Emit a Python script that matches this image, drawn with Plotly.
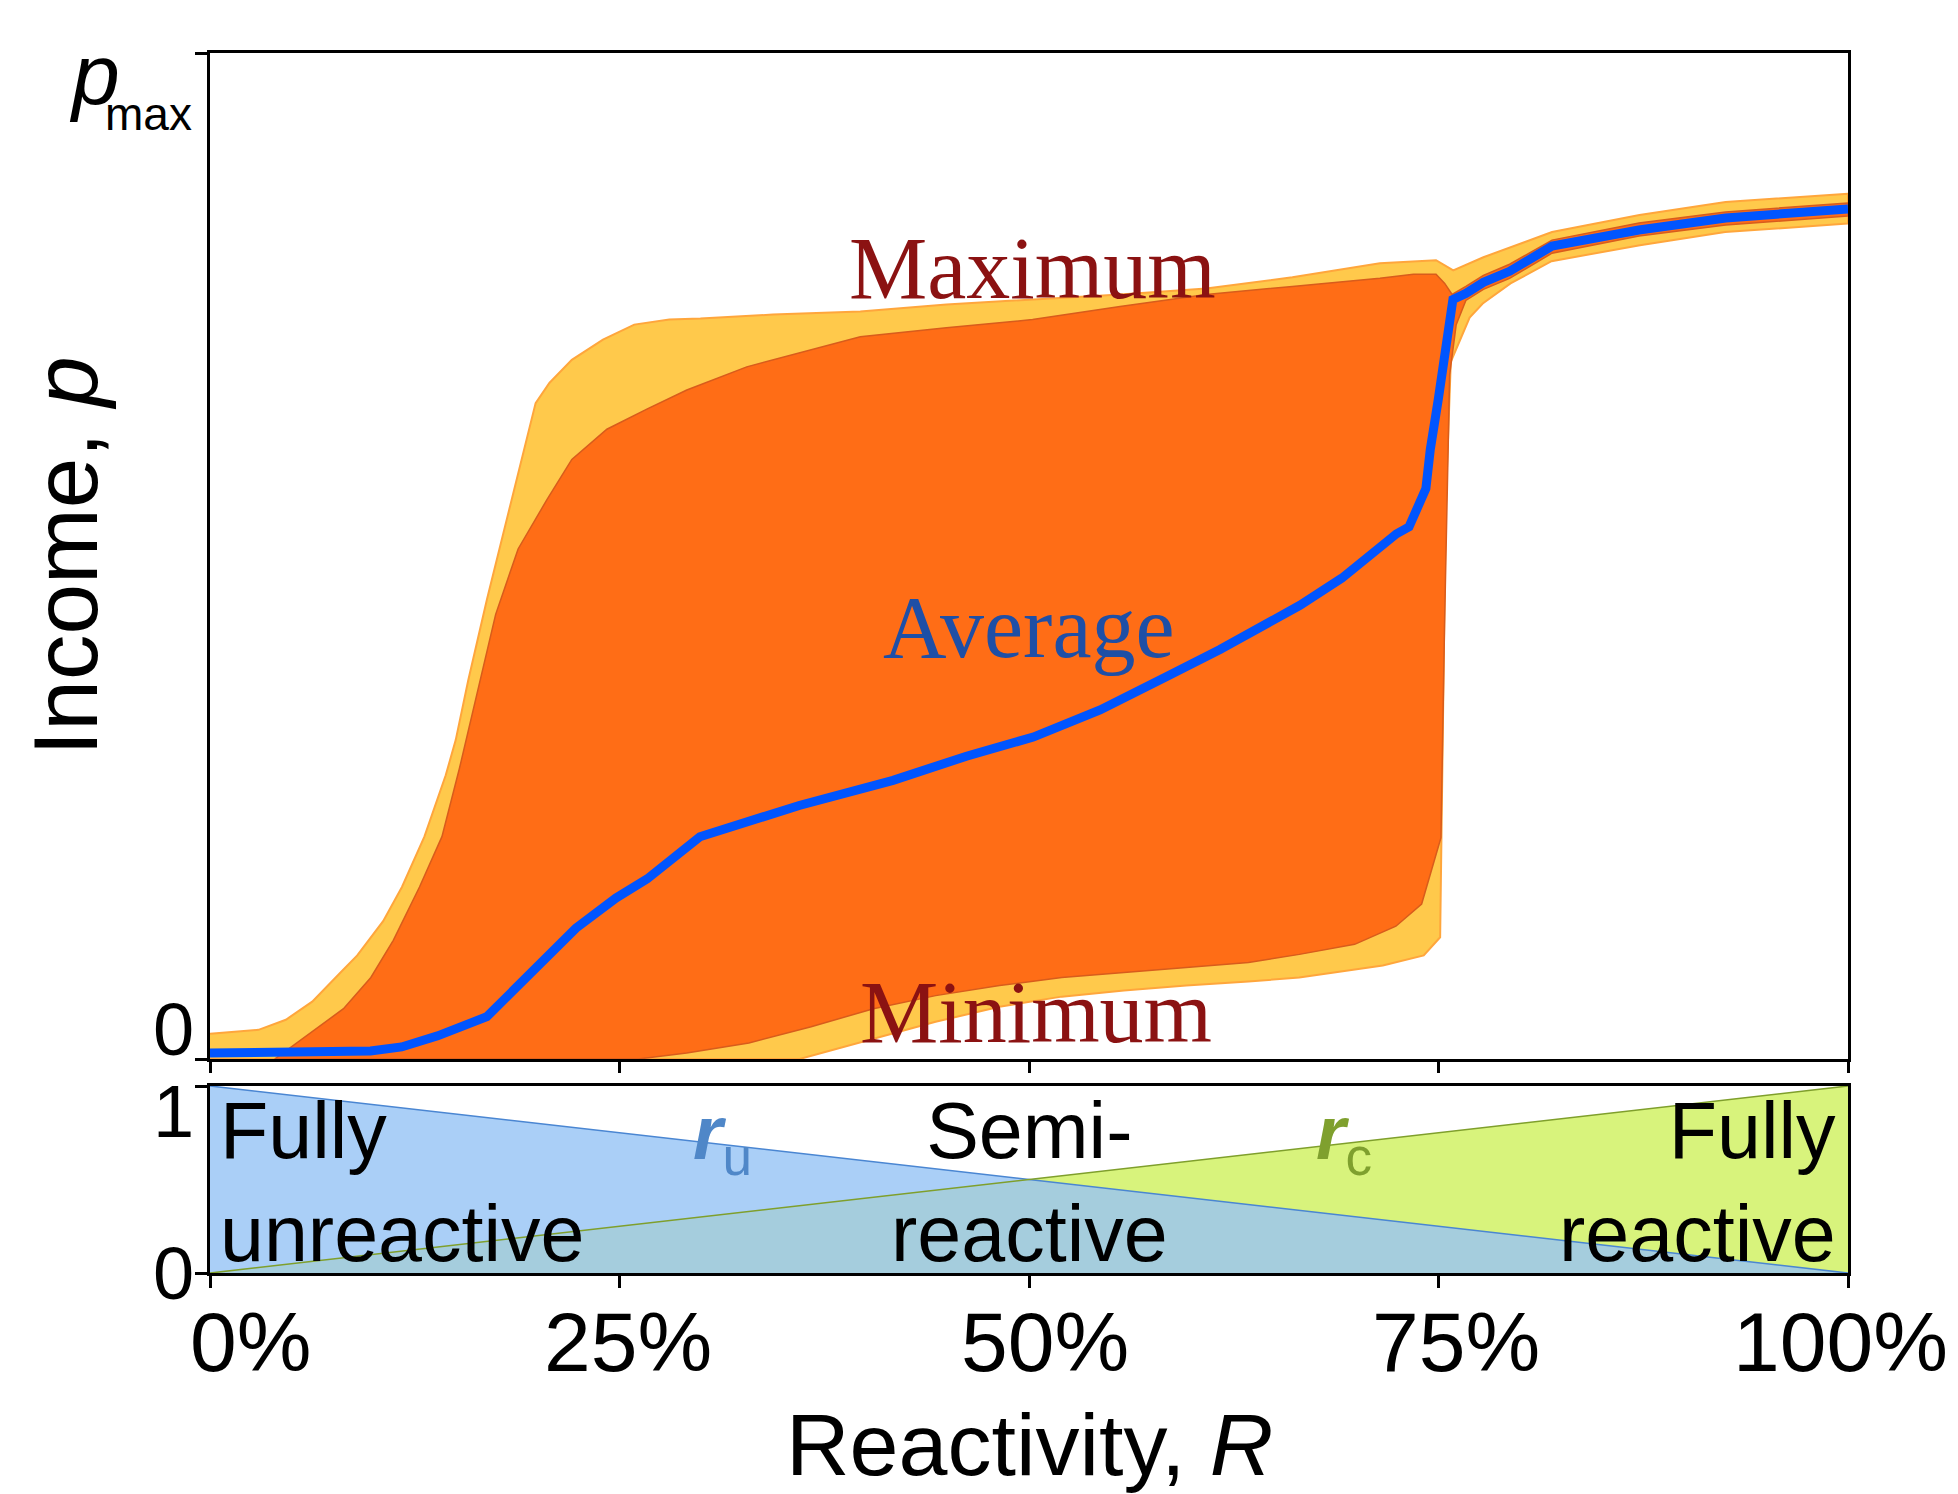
import plotly.graph_objects as go

# ---- Income envelopes versus reactivity R (%); income p scaled so the top frame is 1 ----
max_outer_x = [0, 2.96, 4.63, 6.24, 7.91, 8.99, 10.57, 11.72, 13.09, 14.39, 15.0, 15.76, 16.91, 17.44,
               18.43, 19.88, 20.72, 22.09, 23.99, 25.9, 28.04, 29.94, 34.36, 39.7, 44.96, 50.22, 55.56,
               60.82, 66.08, 71.42, 74.85, 75.9, 77.74, 81.93, 87.27, 92.53, 100]
max_outer_y = [0.025, 0.029, 0.039, 0.057, 0.085, 0.103, 0.137, 0.171, 0.221, 0.282, 0.317, 0.376, 0.457,
               0.492, 0.556, 0.652, 0.672, 0.695, 0.715, 0.730, 0.735, 0.736, 0.740, 0.743, 0.750, 0.755,
               0.760, 0.766, 0.777, 0.791, 0.794, 0.784, 0.797, 0.822, 0.839, 0.852, 0.860]

min_outer_x = [0, 36.0, 40.5, 44.3, 48.2, 52.0, 55.8, 59.6, 63.4, 66.5, 71.6, 74.1, 75.1, 75.2, 75.45,
               75.75, 76.3, 76.9, 77.7, 79.4, 81.9, 87.3, 92.5, 100]
min_outer_y = [0, 0, 0.020, 0.037, 0.052, 0.062, 0.068, 0.073, 0.077, 0.081, 0.093, 0.103, 0.121, 0.212,
               0.556, 0.693, 0.715, 0.737, 0.751, 0.771, 0.793, 0.809, 0.822, 0.8305]

max_inner_x = [3.95, 6.24, 8.15, 9.82, 11.19, 12.79, 14.16, 15.23, 16.33, 17.44, 18.81, 20.57, 22.09, 24.23,
               26.67, 29.11, 32.77, 39.7, 44.96, 50.22, 55.56, 60.82, 66.08, 71.42, 73.47, 74.85, 75.38,
               75.83, 76.67, 77.74, 79.34, 81.93, 87.24, 92.53, 100]
max_inner_y = [0, 0.027, 0.050, 0.081, 0.118, 0.171, 0.221, 0.289, 0.366, 0.442, 0.507, 0.556, 0.596, 0.626,
               0.646, 0.665, 0.688, 0.718, 0.727, 0.735, 0.748, 0.760, 0.768, 0.776, 0.780, 0.780, 0.771,
               0.760, 0.768, 0.779, 0.790, 0.814, 0.831, 0.842, 0.851]

min_inner_x = [3.95, 26.15, 29.1, 32.9, 36.7, 40.5, 44.3, 48.2, 52.0, 55.8, 59.6, 63.4, 66.5, 69.88, 72.4,
               73.97, 75.15, 75.37, 75.68, 76.08, 76.67, 77.74, 79.34, 81.93, 87.24, 92.53, 100]
min_inner_y = [0, 0, 0.006, 0.016, 0.032, 0.050, 0.063, 0.073, 0.081, 0.086, 0.091, 0.096, 0.104, 0.114,
               0.132, 0.154, 0.220, 0.432, 0.680, 0.730, 0.754, 0.765, 0.776, 0.801, 0.818, 0.829, 0.838]

avg_x = [0, 9.8, 11.7, 13.9, 16.9, 19.9, 22.34, 24.78, 26.69, 29.91, 32.92, 35.97, 41.7, 46.18, 50.26,
         54.34, 58.38, 61.66, 66.54, 69.1, 72.43, 73.2, 74.23, 74.5, 74.99, 75.37, 75.88, 76.67, 77.74,
         79.34, 81.93, 87.24, 92.53, 100]
avg_y = [0.006, 0.008, 0.012, 0.023, 0.042, 0.092, 0.130, 0.160, 0.179, 0.221, 0.237, 0.252, 0.277, 0.301,
         0.320, 0.347, 0.380, 0.407, 0.451, 0.478, 0.522, 0.529, 0.567, 0.606, 0.656, 0.705, 0.755, 0.761,
         0.772, 0.783, 0.808, 0.824, 0.836, 0.845]

# ---- Strategy shares: unreactive r_u and reactive r_c ----
share_x = [0, 100]
r_u = [1, 0]
r_c = [0, 1]

x_ticks = [0, 25, 50, 75, 100]
x_tick_text = ["0%", "25%", "50%", "75%", "100%"]
x_tick_nudge = [40, 8, 16, 17, -8]   # horizontal pixel offsets of the tick labels

SANS = "Liberation Sans, Arial, Helvetica, sans-serif"
SERIF = "Liberation Serif, Times New Roman, serif"

YELLOW = "#FFC94B"
YELLOW_EDGE = "#FFA63C"
ORANGE = "#FF6D16"
ORANGE_EDGE = "#D85C1C"
BLUE = "#0055FF"

fig = go.Figure()


def band(upper_x, upper_y, lower_x, lower_y):
    return upper_x + lower_x[::-1], upper_y + lower_y[::-1]


bx, by = band(max_outer_x, max_outer_y, min_outer_x, min_outer_y)
fig.add_trace(go.Scatter(x=bx, y=by, mode="lines", fill="toself", fillcolor=YELLOW,
                         line=dict(color=YELLOW_EDGE, width=2), xaxis="x", yaxis="y",
                         hoverinfo="skip", showlegend=False))
bx, by = band(max_inner_x, max_inner_y, min_inner_x, min_inner_y)
fig.add_trace(go.Scatter(x=bx, y=by, mode="lines", fill="toself", fillcolor=ORANGE,
                         line=dict(color=ORANGE_EDGE, width=1.5), xaxis="x", yaxis="y",
                         hoverinfo="skip", showlegend=False))
fig.add_trace(go.Scatter(x=avg_x, y=avg_y, mode="lines", line=dict(color=BLUE, width=9),
                         xaxis="x", yaxis="y", showlegend=False))

# crossing point of the two share lines, used for the overlapping wedge
slope_u = (r_u[1] - r_u[0]) / (share_x[1] - share_x[0])
slope_c = (r_c[1] - r_c[0]) / (share_x[1] - share_x[0])
x_cross = share_x[0] + (r_c[0] - r_u[0]) / (slope_u - slope_c)
y_cross = r_u[0] + slope_u * (x_cross - share_x[0])

fig.add_trace(go.Scatter(x=share_x, y=r_u, mode="lines", fill="tozeroy", fillcolor="#AACFF7",
                         line=dict(width=0), xaxis="x2", yaxis="y2", showlegend=False))
fig.add_trace(go.Scatter(x=share_x, y=r_c, mode="lines", fill="tozeroy", fillcolor="#D8F37C",
                         line=dict(width=0), xaxis="x2", yaxis="y2", showlegend=False))
fig.add_trace(go.Scatter(x=[share_x[0], x_cross, share_x[1]], y=[r_c[0], y_cross, r_u[1]],
                         mode="lines", fill="tozeroy", fillcolor="#A5CDDD",
                         line=dict(width=0), xaxis="x2", yaxis="y2", showlegend=False))
fig.add_trace(go.Scatter(x=share_x, y=r_u, mode="lines", line=dict(color="#4A86D2", width=1.6),
                         xaxis="x2", yaxis="y2", showlegend=False))
fig.add_trace(go.Scatter(x=share_x, y=r_c, mode="lines", line=dict(color="#7F9F2C", width=1.6),
                         xaxis="x2", yaxis="y2", showlegend=False))

W, H = 1958, 1494
L, R, T, B = 210, W - 1848, 53, H - 1273
plot_h = 1273 - 53
main_dom = [(1273 - 1059) / plot_h, 1]
low_dom = [0, (1273 - 1086) / plot_h]

frame = dict(showline=True, linecolor="black", linewidth=3, mirror=True, showgrid=False,
             zeroline=False, ticks="outside", tickcolor="black", tickwidth=3)

annotations = []
# x tick labels below the lower panel
for v, t, dx in zip(x_ticks, x_tick_text, x_tick_nudge):
    annotations.append(dict(x=v, y=0, xref="x2", yref="y2", text=t, showarrow=False,
                            xanchor="center", yanchor="top", xshift=dx, yshift=-20,
                            font=dict(family=SANS, size=84, color="black")))
annotations += [
    dict(x=50, y=0, xref="x2", yref="y2", text="Reactivity, <i>R</i>", showarrow=False,
         xanchor="center", yanchor="top", yshift=-120, font=dict(family=SANS, size=88, color="black")),
    dict(x=0, y=0.5, xref="paper", yref="y domain", text="Income, <i>p</i>", showarrow=False,
         textangle=-90, xanchor="center", yanchor="middle", xshift=-145,
         font=dict(family=SANS, size=91, color="black")),
    dict(x=0, y=1, xref="x domain", yref="y domain", text="<i>p</i>", showarrow=False,
         xanchor="right", yanchor="top", xshift=-88, yshift=29, font=dict(family=SANS, size=86, color="black")),
    dict(x=0, y=1, xref="x domain", yref="y domain", text="max", showarrow=False,
         xanchor="right", yanchor="top", xshift=-16, yshift=-33, font=dict(family=SANS, size=46, color="black")),
    dict(x=0, y=0, xref="x domain", yref="y domain", text="0", showarrow=False,
         xanchor="right", yanchor="bottom", xshift=-14, yshift=-14, font=dict(family=SANS, size=74, color="black")),
    dict(x=0, y=1, xref="x2 domain", yref="y2 domain", text="1", showarrow=False,
         xanchor="right", yanchor="top", xshift=-14, yshift=18, font=dict(family=SANS, size=74, color="black")),
    dict(x=0, y=0, xref="x2 domain", yref="y2 domain", text="0", showarrow=False,
         xanchor="right", yanchor="middle", xshift=-14, font=dict(family=SANS, size=74, color="black")),
    # band labels
    dict(x=50.2, y=0.786, xref="x", yref="y", text="Maximum", showarrow=False, xanchor="center",
         yanchor="middle", font=dict(family=SERIF, size=88, color="#8B1212")),
    dict(x=50, y=0.429, xref="x", yref="y", text="Average", showarrow=False, xanchor="center",
         yanchor="middle", font=dict(family=SERIF, size=88, color="#1E4FA6")),
    dict(x=50.4, y=0.046, xref="x", yref="y", text="Minimum", showarrow=False, xanchor="center",
         yanchor="middle", font=dict(family=SERIF, size=88, color="#8B1212")),
    # regime labels in the lower panel
    dict(x=0, y=1, xref="x2", yref="y2", text="Fully<br>unreactive", showarrow=False, align="left",
         xanchor="left", yanchor="top", xshift=8, yshift=2, font=dict(family=SANS, size=79, color="black")),
    dict(x=50, y=1, xref="x2", yref="y2", text="Semi-<br>reactive", showarrow=False, align="center",
         xanchor="center", yanchor="top", yshift=2, font=dict(family=SANS, size=79, color="black")),
    dict(x=100, y=1, xref="x2", yref="y2", text="Fully<br>reactive", showarrow=False, align="right",
         xanchor="right", yanchor="top", xshift=-10, yshift=2, font=dict(family=SANS, size=79, color="black")),
    dict(x=31.3, y=0.72, xref="x2", yref="y2", text="<b><i>r</i></b><sub>u</sub>", showarrow=False,
         xanchor="center", yanchor="middle", font=dict(family=SANS, size=76, color="#4F87C8")),
    dict(x=69.2, y=0.72, xref="x2", yref="y2", text="<b><i>r</i></b><sub>c</sub>", showarrow=False,
         xanchor="center", yanchor="middle", font=dict(family=SANS, size=76, color="#7FA02E")),
]

fig.update_layout(
    width=W, height=H,
    margin=dict(l=L, r=R, t=T, b=B),
    paper_bgcolor="white", plot_bgcolor="white",
    xaxis=dict(range=[0, 100], domain=[0, 1], anchor="y", tickvals=x_ticks, showticklabels=False,
               ticklen=11, **frame),
    yaxis=dict(range=[0, 1], domain=main_dom, anchor="x", tickvals=[0, 1], showticklabels=False,
               ticklen=12, **frame),
    xaxis3=dict(range=[0, 100], overlaying="x", anchor="y", tickvals=x_ticks[1:-1], ticks="inside",
                ticklen=10, tickwidth=3, tickcolor="black", showticklabels=False, showline=False,
                showgrid=False, zeroline=False),
    xaxis2=dict(range=[0, 100], domain=[0, 1], anchor="y2", tickvals=x_ticks, showticklabels=False,
                ticklen=12, **frame),
    yaxis2=dict(range=[0, 1], domain=low_dom, anchor="x2", tickvals=[0, 1], showticklabels=False,
                ticklen=12, **frame),
    xaxis4=dict(range=[0, 100], overlaying="x2", anchor="y2", tickvals=x_ticks[1:-1], ticks="inside",
                ticklen=5, tickwidth=3, tickcolor="black", showticklabels=False, showline=False,
                showgrid=False, zeroline=False),
    annotations=annotations,
)

fig.write_html("out.html")
